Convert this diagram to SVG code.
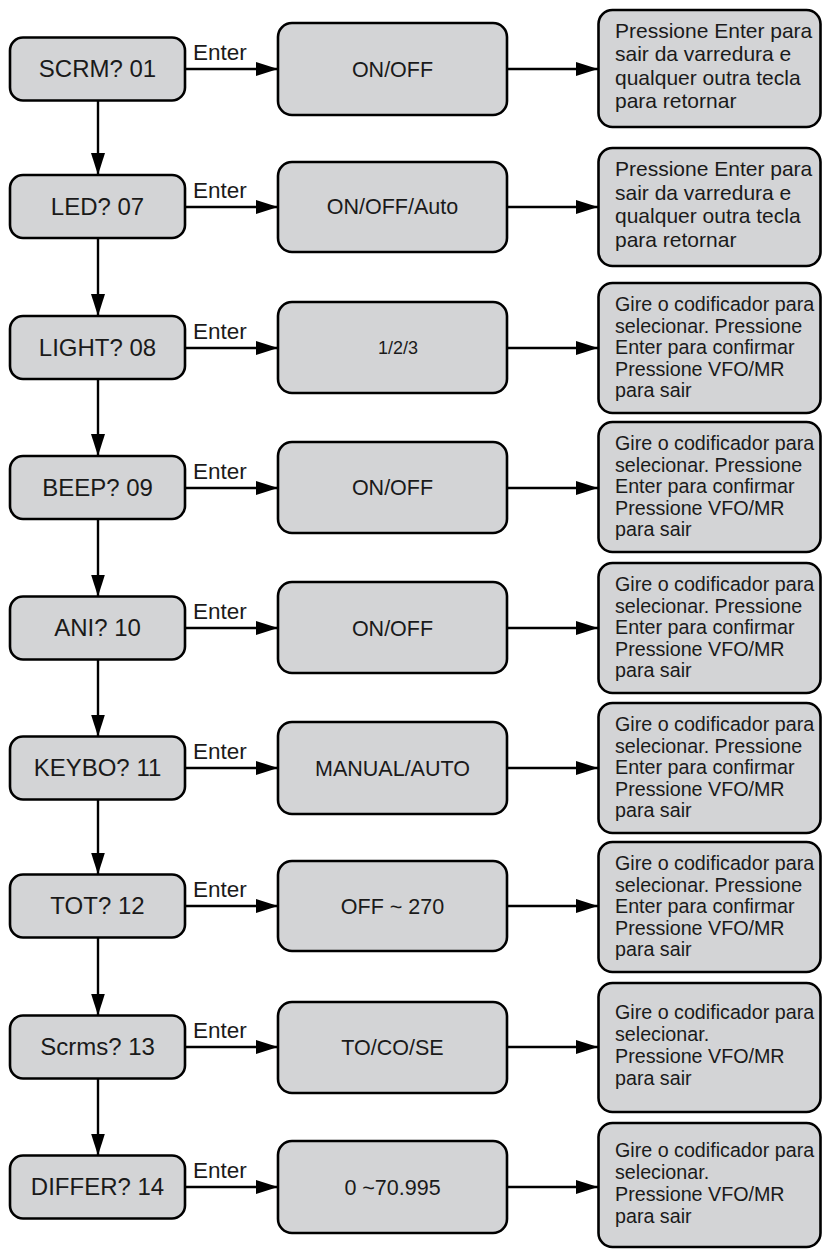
<svg xmlns="http://www.w3.org/2000/svg" width="823" height="1250" viewBox="0 0 823 1250">
<defs>
<style>
.box{fill:#d3d4d6;stroke:#000;stroke-width:2.6}
.t{font-family:"Liberation Sans",Arial,sans-serif;fill:#1a1a1a}
.lbl{font-size:24px;text-anchor:middle}
.mid{font-size:21.5px;text-anchor:middle}
.en{font-size:22.5px}
.r1{font-size:21px}
.r2{font-size:19.7px}
.c{fill:none;stroke:#000;stroke-width:2.4}
</style>
<marker id="ah" viewBox="0 0 22 14" refX="22" refY="7" markerWidth="22" markerHeight="14" markerUnits="userSpaceOnUse" orient="auto"><path d="M0,0 L22,7 L0,14 z" fill="#000"/></marker>
</defs>
<rect width="823" height="1250" fill="#fff"/>
<g id="connectors">
<path class="c" marker-end="url(#ah)" d="M185,69 H278"/>
<path class="c" marker-end="url(#ah)" d="M507,69 H598"/>
<path class="c" marker-end="url(#ah)" d="M98,100.5 V175"/>
<path class="c" marker-end="url(#ah)" d="M185,207 H278"/>
<path class="c" marker-end="url(#ah)" d="M507,207 H598"/>
<path class="c" marker-end="url(#ah)" d="M98,238 V316"/>
<path class="c" marker-end="url(#ah)" d="M185,348 H278"/>
<path class="c" marker-end="url(#ah)" d="M507,348 H598"/>
<path class="c" marker-end="url(#ah)" d="M98,379 V456"/>
<path class="c" marker-end="url(#ah)" d="M185,488 H278"/>
<path class="c" marker-end="url(#ah)" d="M507,488 H598"/>
<path class="c" marker-end="url(#ah)" d="M98,519 V596.5"/>
<path class="c" marker-end="url(#ah)" d="M185,628 H278"/>
<path class="c" marker-end="url(#ah)" d="M507,628 H598"/>
<path class="c" marker-end="url(#ah)" d="M98,659.5 V736.5"/>
<path class="c" marker-end="url(#ah)" d="M185,768 H278"/>
<path class="c" marker-end="url(#ah)" d="M507,768 H598"/>
<path class="c" marker-end="url(#ah)" d="M98,799.5 V874.5"/>
<path class="c" marker-end="url(#ah)" d="M185,906 H278"/>
<path class="c" marker-end="url(#ah)" d="M507,906 H598"/>
<path class="c" marker-end="url(#ah)" d="M98,937.5 V1015.5"/>
<path class="c" marker-end="url(#ah)" d="M185,1047 H278"/>
<path class="c" marker-end="url(#ah)" d="M507,1047 H598"/>
<path class="c" marker-end="url(#ah)" d="M98,1078.5 V1155.5"/>
<path class="c" marker-end="url(#ah)" d="M185,1187 H278"/>
<path class="c" marker-end="url(#ah)" d="M507,1187 H598"/>
</g>
<g class="t en">
<text x="193" y="60">Enter</text>
<text x="193" y="198">Enter</text>
<text x="193" y="339">Enter</text>
<text x="193" y="479">Enter</text>
<text x="193" y="619">Enter</text>
<text x="193" y="759">Enter</text>
<text x="193" y="897">Enter</text>
<text x="193" y="1038">Enter</text>
<text x="193" y="1178">Enter</text>
</g>
<g id="n-scrm"><rect class="box" x="10" y="37.5" width="175" height="63" rx="13"/><text class="t lbl" x="97.5" y="77">SCRM? 01</text></g>
<g id="n-led"><rect class="box" x="10" y="175" width="175" height="63" rx="13"/><text class="t lbl" x="97.5" y="214.5">LED? 07</text></g>
<g id="n-light"><rect class="box" x="10" y="316" width="175" height="63" rx="13"/><text class="t lbl" x="97.5" y="355.5">LIGHT? 08</text></g>
<g id="n-beep"><rect class="box" x="10" y="456" width="175" height="63" rx="13"/><text class="t lbl" x="97.5" y="495.5">BEEP? 09</text></g>
<g id="n-ani"><rect class="box" x="10" y="596.5" width="175" height="63" rx="13"/><text class="t lbl" x="97.5" y="636">ANI? 10</text></g>
<g id="n-keybo"><rect class="box" x="10" y="736.5" width="175" height="63" rx="13"/><text class="t lbl" x="97.5" y="776">KEYBO? 11</text></g>
<g id="n-tot"><rect class="box" x="10" y="874.5" width="175" height="63" rx="13"/><text class="t lbl" x="97.5" y="914">TOT? 12</text></g>
<g id="n-scrms"><rect class="box" x="10" y="1015.5" width="175" height="63" rx="13"/><text class="t lbl" x="97.5" y="1055">Scrms? 13</text></g>
<g id="n-differ"><rect class="box" x="10" y="1155.5" width="175" height="63" rx="13"/><text class="t lbl" x="97.5" y="1195">DIFFER? 14</text></g>

<g id="m-scrm"><rect class="box" x="278" y="23" width="229" height="92" rx="14"/><text class="t mid" x="392.5" y="76.5">ON/OFF</text></g>
<g id="m-led"><rect class="box" x="278" y="162" width="229" height="90" rx="14"/><text class="t mid" x="392.5" y="214">ON/OFF/Auto</text></g>
<g id="m-light"><rect class="box" x="278" y="302" width="229" height="91" rx="14"/><text class="t mid" x="398" y="354" style="font-size:18px">1/2/3</text></g>
<g id="m-beep"><rect class="box" x="278" y="442" width="229" height="91" rx="14"/><text class="t mid" x="392.5" y="495">ON/OFF</text></g>
<g id="m-ani"><rect class="box" x="278" y="582" width="229" height="91" rx="14"/><text class="t mid" x="392.5" y="635.5">ON/OFF</text></g>
<g id="m-keybo"><rect class="box" x="278" y="722" width="229" height="92" rx="14"/><text class="t mid" x="392.5" y="775.5">MANUAL/AUTO</text></g>
<g id="m-tot"><rect class="box" x="278" y="861" width="229" height="90" rx="14"/><text class="t mid" x="392.5" y="913.5">OFF ~ 270</text></g>
<g id="m-scrms"><rect class="box" x="278" y="1002" width="229" height="91" rx="14"/><text class="t mid" x="392.5" y="1054.5">TO/CO/SE</text></g>
<g id="m-differ"><rect class="box" x="278" y="1141" width="229" height="92" rx="14"/><text class="t mid" x="392.5" y="1194.5">0 ~70.995</text></g>

<g id="r-scrm"><rect class="box" x="598.5" y="10" width="222" height="117" rx="14"/>
<text class="t r1" x="615"><tspan x="615" y="37.5">Pressione Enter para</tspan><tspan x="615" y="61">sair da varredura e</tspan><tspan x="615" y="84.5">qualquer outra tecla</tspan><tspan x="615" y="108">para retornar</tspan></text></g>
<g id="r-led"><rect class="box" x="598.5" y="148" width="222" height="118" rx="14"/>
<text class="t r1" x="615"><tspan x="615" y="176">Pressione Enter para</tspan><tspan x="615" y="199.5">sair da varredura e</tspan><tspan x="615" y="223">qualquer outra tecla</tspan><tspan x="615" y="246.5">para retornar</tspan></text></g>
<g id="r-light"><rect class="box" x="598.5" y="283" width="222" height="130" rx="14"/>
<text class="t r2" x="615"><tspan x="615" y="311">Gire o codificador para</tspan><tspan x="615" y="332.5">selecionar. Pressione</tspan><tspan x="615" y="354">Enter para confirmar</tspan><tspan x="615" y="375.5">Pressione VFO/MR</tspan><tspan x="615" y="397">para sair</tspan></text></g>
<g id="r-beep"><rect class="box" x="598.5" y="422" width="222" height="130" rx="14"/>
<text class="t r2" x="615"><tspan x="615" y="450">Gire o codificador para</tspan><tspan x="615" y="471.5">selecionar. Pressione</tspan><tspan x="615" y="493">Enter para confirmar</tspan><tspan x="615" y="514.5">Pressione VFO/MR</tspan><tspan x="615" y="536">para sair</tspan></text></g>
<g id="r-ani"><rect class="box" x="598.5" y="563" width="222" height="130" rx="14"/>
<text class="t r2" x="615"><tspan x="615" y="591">Gire o codificador para</tspan><tspan x="615" y="612.5">selecionar. Pressione</tspan><tspan x="615" y="634">Enter para confirmar</tspan><tspan x="615" y="655.5">Pressione VFO/MR</tspan><tspan x="615" y="677">para sair</tspan></text></g>
<g id="r-keybo"><rect class="box" x="598.5" y="703" width="222" height="130" rx="14"/>
<text class="t r2" x="615"><tspan x="615" y="731">Gire o codificador para</tspan><tspan x="615" y="752.5">selecionar. Pressione</tspan><tspan x="615" y="774">Enter para confirmar</tspan><tspan x="615" y="795.5">Pressione VFO/MR</tspan><tspan x="615" y="817">para sair</tspan></text></g>
<g id="r-tot"><rect class="box" x="598.5" y="842" width="222" height="130" rx="14"/>
<text class="t r2" x="615"><tspan x="615" y="870">Gire o codificador para</tspan><tspan x="615" y="891.5">selecionar. Pressione</tspan><tspan x="615" y="913">Enter para confirmar</tspan><tspan x="615" y="934.5">Pressione VFO/MR</tspan><tspan x="615" y="956">para sair</tspan></text></g>
<g id="r-scrms"><rect class="box" x="598.5" y="983" width="222" height="129" rx="14"/>
<text class="t r2" x="615"><tspan x="615" y="1019">Gire o codificador para</tspan><tspan x="615" y="1041">selecionar.</tspan><tspan x="615" y="1063">Pressione VFO/MR</tspan><tspan x="615" y="1085">para sair</tspan></text></g>
<g id="r-differ"><rect class="box" x="598.5" y="1123" width="222" height="124" rx="14"/>
<text class="t r2" x="615"><tspan x="615" y="1157">Gire o codificador para</tspan><tspan x="615" y="1179">selecionar.</tspan><tspan x="615" y="1201">Pressione VFO/MR</tspan><tspan x="615" y="1223">para sair</tspan></text></g>
</svg>
